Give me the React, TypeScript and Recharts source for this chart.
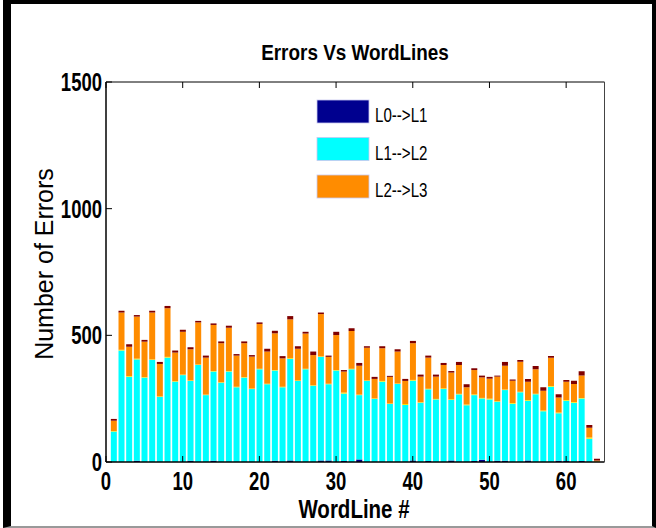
import React from 'react';
import { BarChart, Bar, XAxis, YAxis } from 'recharts';

// word line index along the x axis
const wordLines = [
  1, 2, 3, 4, 5, 6, 7, 8, 9, 10,
  11, 12, 13, 14, 15, 16, 17, 18, 19, 20,
  21, 22, 23, 24, 25, 26, 27, 28, 29, 30,
  31, 32, 33, 34, 35, 36, 37, 38, 39, 40,
  41, 42, 43, 44, 45, 46, 47, 48, 49, 50,
  51, 52, 53, 54, 55, 56, 57, 58, 59, 60,
  61, 62, 63, 64,
];

// error counts per transition, stacked bottom to top
const l0ToL1 = [
  0, 0, 0, 5, 0, 0, 0, 0, 0, 0,
  5, 0, 0, 5, 0, 0, 0, 0, 0, 0,
  0, 5, 0, 6, 0, 0, 0, 6, 6, 0,
  4, 0, 10, 0, 0, 0, 0, 0, 0, 6,
  0, 4, 0, 0, 6, 0, 0, 4, 9, 0,
  5, 5, 0, 0, 6, 0, 0, 0, 5, 4,
  0, 4, 0, 0,
];
const l1ToL2 = [
  120, 440, 337, 400, 333, 403, 257, 412, 317, 343,
  315, 383, 264, 352, 313, 357, 295, 333, 288, 366,
  307, 356, 295, 401, 320, 366, 301, 409, 301, 361,
  266, 366, 254, 320, 249, 317, 229, 308, 225, 315,
  234, 283, 247, 288, 239, 267, 224, 260, 242, 247,
  233, 279, 230, 275, 236, 267, 200, 297, 187, 238,
  234, 247, 92, 0,
];
const l1Other = [
  2, 3, 2, 3, 2, 2, 2, 3, 2, 2,
  2, 2, 2, 2, 2, 2, 2, 2, 2, 2,
  2, 2, 2, 3, 2, 2, 2, 2, 2, 2,
  4, 2, 2, 2, 2, 3, 2, 2, 4, 3,
  2, 2, 2, 3, 3, 2, 3, 3, 2, 3,
  2, 2, 3, 2, 3, 2, 3, 3, 3, 3,
  3, 2, 5, 3,
];
const l2ToL3 = [
  41, 147, 116, 166, 140, 185, 128, 192, 113, 169,
  123, 166, 146, 182, 154, 171, 123, 134, 126, 177,
  127, 145, 112, 153, 125, 139, 119, 167, 106, 138,
  83, 149, 114, 129, 77, 129, 105, 126, 91, 145,
  101, 123, 88, 92, 105, 114, 68, 96, 81, 79,
  97, 94, 88, 119, 72, 97, 78, 112, 60, 72,
  71, 88, 38, 3,
];
const l3Other = [
  7, 7, 10, 6, 7, 7, 8, 9, 8, 8,
  8, 6, 8, 6, 7, 8, 6, 7, 6, 6,
  11, 10, 9, 13, 10, 7, 14, 6, 5, 13,
  6, 11, 11, 6, 8, 8, 4, 9, 8, 9,
  8, 8, 8, 8, 6, 12, 12, 7, 7, 7,
  4, 15, 5, 7, 11, 13, 14, 6, 12, 7,
  13, 17, 11, 7,
];

const xTicks = [0, 10, 20, 30, 40, 50, 60];
const yTicks = [0, 500, 1000, 1500];
const legendNames = ['L0-->L1', 'L1-->L2', 'L2-->L3'];

const NAVY = '#00008f';
const CYAN = '#00ffff';
const YELLOW = '#ffe400';
const ORANGE = '#ff8c00';
const DARKRED = '#800000';

const FONT = '"Liberation Sans", Arial, Helvetica, sans-serif';

const rows = wordLines.map((wl, i) => ({
  wl,
  l0: l0ToL1[i],
  l1: l1ToL2[i],
  l1x: l1Other[i],
  l2: l2ToL3[i],
  l3x: l3Other[i],
}));

// narrow bold labels, squeezed horizontally
const Narrow = ({ x, y, sx, size, weight = 'bold', anchor = 'middle', children }: any) => (
  <text
    transform={`translate(${x},${y}) scale(${sx},1)`}
    textAnchor={anchor}
    fontSize={size}
    fontWeight={weight}
    fontFamily={FONT}
    fill="#000"
  >
    {children}
  </text>
);

const BottomTick = ({ x, y, payload }: any) => (
  <g>
    <line x1={x} y1={y} x2={x} y2={y - 6} stroke="#000" />
    <Narrow x={x} y={y + 28} sx={0.74} size={25}>{payload.value}</Narrow>
  </g>
);

const TopTick = ({ x, y }: any) => (
  <line x1={x} y1={y} x2={x} y2={y + 6} stroke="#000" />
);

const LeftTick = ({ x, y, payload }: any) => (
  <g>
    <line x1={x} y1={y} x2={x + 6} y2={y} stroke="#000" />
    <Narrow x={x - 4} y={y + 9} sx={0.74} size={25} anchor="end">{payload.value}</Narrow>
  </g>
);

const RightTick = ({ x, y }: any) => (
  <line x1={x} y1={y} x2={x - 6} y2={y} stroke="#000" />
);

export default function App() {
  const legendColors = [NAVY, CYAN, ORANGE];
  return (
    <div style={{ position: 'fixed', left: 0, top: 0, width: 656, height: 528, background: '#fff' }}>
      <div
        style={{
          position: 'absolute',
          left: 3,
          top: 0,
          width: 641,
          height: 522,
          borderLeft: '8px solid #000',
          borderTop: '4px solid #000',
          borderRight: '4px solid #000',
          borderBottom: '2px solid #999',
        }}
      />
      <BarChart
        width={656}
        height={528}
        data={rows}
        margin={{ top: 81, right: 50.5, bottom: 65, left: 105 }}
        style={{ position: 'absolute', left: 0, top: 0 }}
      >
        <XAxis
          dataKey="wl"
          type="number"
          domain={[0, 65]}
          ticks={xTicks}
          allowDataOverflow
          height={1}
          tickSize={0}
          tickMargin={0}
          axisLine={{ stroke: '#000', strokeWidth: 1.5 }}
          tick={<BottomTick />}
          interval={0}
        />
        <XAxis
          xAxisId="top"
          orientation="top"
          dataKey="wl"
          type="number"
          domain={[0, 65]}
          ticks={xTicks}
          allowDataOverflow
          height={1}
          tickSize={0}
          tickMargin={0}
          axisLine={{ stroke: '#000', strokeWidth: 1 }}
          tick={<TopTick />}
          interval={0}
        />
        <YAxis
          type="number"
          domain={[0, 1500]}
          ticks={yTicks}
          width={1}
          tickSize={0}
          tickMargin={0}
          axisLine={{ stroke: '#000', strokeWidth: 1.5 }}
          tick={<LeftTick />}
          interval={0}
        />
        <YAxis
          yAxisId="right"
          orientation="right"
          type="number"
          domain={[0, 1500]}
          ticks={yTicks}
          width={1}
          tickSize={0}
          tickMargin={0}
          axisLine={{ stroke: '#444', strokeWidth: 1 }}
          tick={<RightTick />}
          interval={0}
        />
        <Bar dataKey="l0" stackId="s" fill={NAVY} barSize={6} isAnimationActive={false} />
        <Bar dataKey="l1" stackId="s" fill={CYAN} barSize={6} isAnimationActive={false} />
        <Bar dataKey="l1x" stackId="s" fill={YELLOW} barSize={6} isAnimationActive={false} />
        <Bar dataKey="l2" stackId="s" fill={ORANGE} barSize={6} isAnimationActive={false} />
        <Bar dataKey="l3x" stackId="s" fill={DARKRED} barSize={6} isAnimationActive={false} />
      </BarChart>
      <svg
        width={656}
        height={528}
        style={{ position: 'absolute', left: 0, top: 0, pointerEvents: 'none' }}
      >
        <Narrow x={355} y={60} sx={0.86} size={22}>Errors Vs WordLines</Narrow>
        <Narrow x={354} y={518} sx={0.82} size={25}>WordLine #</Narrow>
        <text
          transform="translate(53,264) rotate(-90)"
          textAnchor="middle"
          fontSize={25}
          fontFamily={FONT}
          fill="#000"
        >
          Number of Errors
        </text>
        {legendNames.map((name, i) => (
          <g key={name}>
            <rect
              x={317}
              y={100 + i * 37.5}
              width={52}
              height={23}
              fill={legendColors[i]}
              stroke="#c8c8f0"
              strokeWidth={0.8}
            />
            <Narrow x={375} y={122 + i * 37.5} sx={0.72} size={21} weight="normal" anchor="start">
              {name}
            </Narrow>
          </g>
        ))}
      </svg>
    </div>
  );
}
